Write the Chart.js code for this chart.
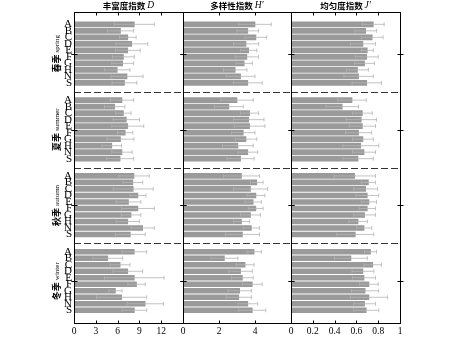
<!DOCTYPE html>
<html>
<head>
<meta charset="utf-8">
<script src="https://cdn.jsdelivr.net/npm/chart.js@4.4.0/dist/chart.umd.min.js"></script>
<style>
html, body { margin: 0; padding: 0; background: #fff; }
#wrap { position: relative; width: 455px; height: 338px; overflow: hidden; }
canvas { position: absolute; top: 0; }
</style>
</head>
<body>
<div id="wrap">
  <canvas id="c1" width="190" height="338" style="left:0px"></canvas>
  <canvas id="c2" width="125" height="338" style="left:175px"></canvas>
  <canvas id="c3" width="135" height="338" style="left:283px"></canvas>
</div>
<script>
const seasons = ['春季', '夏季', '秋季', '冬季'];
const seasonsEn = ['spring', 'summer', 'autumn', 'winter'];
const sites = ['A', 'B', 'C', 'D', 'E', 'F', 'G', 'H', 'N', 'S'];

// one row per season, one value per site
const richness = [
  [8.3, 6.4, 7.4, 7.95, 7.4, 6.8, 6.7, 5.95, 7.3, 6.95],
  [6.6, 5.6, 6.8, 7.2, 7.4, 7.05, 6.4, 5.2, 6.6, 6.35],
  [8.25, 8.1, 8.15, 8.8, 7.5, 8.8, 7.85, 7.4, 9.45, 7.75],
  [8.3, 4.65, 6.35, 7.4, 8.3, 8.6, 5.7, 6.55, 9.8, 8.3]
];
const richnessSd = [
  [2.75, 1.8, 1.15, 2.2, 1.7, 1.5, 1.5, 1.75, 2.2, 1.7],
  [1.6, 1.4, 1.05, 1.8, 2.2, 1.05, 1.85, 1.35, 1.4, 1.85],
  [2.1, 1.35, 2.75, 1.1, 1.7, 2.25, 1.35, 1.6, 1.6, 2.05],
  [1.7, 2.05, 1.35, 2.05, 4.1, 1.2, 0.9, 3.45, 2.5, 1.7]
];
const diversity = [
  [4.0, 3.6, 4.05, 3.5, 3.65, 3.55, 3.4, 2.9, 3.2, 3.6],
  [3.0, 2.55, 3.7, 3.65, 3.7, 3.35, 3.5, 3.05, 3.6, 3.2],
  [3.25, 4.1, 3.75, 4.05, 3.9, 4.05, 3.75, 3.25, 3.8, 3.3],
  [3.95, 2.3, 3.45, 3.2, 3.3, 3.85, 3.15, 3.1, 3.6, 3.85]
];
const diversitySd = [
  [0.9, 0.6, 0.6, 0.7, 0.45, 0.65, 0.45, 0.65, 0.8, 0.8],
  [0.9, 0.8, 0.5, 0.85, 0.85, 0.65, 0.6, 0.85, 0.55, 0.75],
  [1.0, 0.35, 0.95, 0.5, 0.45, 0.4, 0.55, 0.45, 0.45, 0.95],
  [0.4, 0.75, 0.5, 0.65, 0.6, 0.55, 0.65, 0.7, 0.55, 0.75]
];
const evenness = [
  [0.755, 0.685, 0.745, 0.66, 0.70, 0.695, 0.675, 0.61, 0.62, 0.695],
  [0.56, 0.47, 0.655, 0.645, 0.655, 0.62, 0.66, 0.64, 0.67, 0.615],
  [0.585, 0.71, 0.685, 0.70, 0.715, 0.70, 0.675, 0.615, 0.67, 0.59],
  [0.73, 0.55, 0.75, 0.66, 0.67, 0.715, 0.68, 0.715, 0.675, 0.69]
];
const evennessSd = [
  [0.1, 0.1, 0.1, 0.115, 0.055, 0.105, 0.09, 0.1, 0.135, 0.135],
  [0.13, 0.15, 0.09, 0.14, 0.12, 0.12, 0.095, 0.165, 0.105, 0.14],
  [0.19, 0.065, 0.11, 0.105, 0.07, 0.075, 0.1, 0.085, 0.07, 0.17],
  [0.055, 0.15, 0.08, 0.1, 0.105, 0.085, 0.125, 0.17, 0.1, 0.115]
];

// vertical layout of the bar slots (in bar units)
const SEC = 11.66;
const OFF = 1.3;
const TOTAL = SEC * seasons.length;
const positions = [];
seasons.forEach((s, si) => sites.forEach((c, ci) => positions.push(si * SEC + OFF + ci)));

const serif = '"Liberation Serif", "DejaVu Serif", serif';
const cjk = '"Noto Sans CJK SC", sans-serif';

function makePanel(id, values, sds, max, step, title, sym, opts) {
  const vals = values.flat();
  const errs = sds.flat();
  const data = vals.map((v, i) => ({ x: v, y: positions[i] }));

  const decor = {
    id: 'decor',
    afterDatasetsDraw(chart) {
      const ctx = chart.ctx;
      const xs = chart.scales.x;
      const meta = chart.getDatasetMeta(0);
      ctx.save();
      ctx.strokeStyle = '#b4b4b4';
      ctx.lineWidth = 0.8;
      meta.data.forEach((el, i) => {
        const y = el.y;
        const a = xs.getPixelForValue(vals[i] - errs[i]);
        const b = xs.getPixelForValue(vals[i] + errs[i]);
        ctx.beginPath();
        ctx.moveTo(a, y); ctx.lineTo(b, y);
        ctx.moveTo(a, y - 2); ctx.lineTo(a, y + 2);
        ctx.moveTo(b, y - 2); ctx.lineTo(b, y + 2);
        ctx.stroke();
      });
      ctx.restore();
    },
    afterDraw(chart) {
      const ctx = chart.ctx;
      const { left, right, top, bottom } = chart.chartArea;
      const xs = chart.scales.x, ys = chart.scales.y;
      ctx.save();
      // dashed season separators
      ctx.strokeStyle = '#333';
      ctx.lineWidth = 1;
      ctx.setLineDash([7, 3]);
      for (let s = 1; s < seasons.length; s++) {
        const y = Math.round(ys.getPixelForValue(s * SEC)) + 0.5;
        ctx.beginPath(); ctx.moveTo(left, y); ctx.lineTo(right, y); ctx.stroke();
      }
      ctx.setLineDash([]);
      // frame (right edge shares the pixel column with the next panel's left edge)
      ctx.strokeStyle = '#000';
      ctx.lineWidth = 1;
      const L = Math.round(left) + 0.5, R = Math.round(right) + 0.5;
      const T = Math.round(top) + 0.5, B = Math.round(bottom) + 0.5;
      ctx.strokeRect(L, T, R - L, B - T);
      // inward ticks top and bottom
      ctx.beginPath();
      for (let v = step; v < max - 1e-9; v += step) {
        const x = Math.round(xs.getPixelForValue(v)) + 0.5;
        ctx.moveTo(x, T); ctx.lineTo(x, T + 3);
        ctx.moveTo(x, B); ctx.lineTo(x, B - 3);
      }
      // ticks at season midpoints on the side borders
      for (let s = 0; s < seasons.length; s++) {
        const y = Math.round(ys.getPixelForValue(s * SEC + SEC / 2)) + 0.5;
        ctx.moveTo(L - 3, y); ctx.lineTo(L + 3, y);
        ctx.moveTo(R - 3, y); ctx.lineTo(R + 3, y);
      }
      ctx.stroke();
      // panel title
      const cx = (left + right) / 2;
      ctx.fillStyle = '#000';
      ctx.textBaseline = 'middle';
      ctx.font = 'bold 8.5px ' + cjk;
      const w1 = ctx.measureText(title + ' ').width;
      ctx.font = 'italic 9.5px ' + serif;
      const w2 = ctx.measureText(sym).width;
      const x0 = cx - (w1 + w2) / 2;
      ctx.textAlign = 'left';
      ctx.font = 'bold 8.5px ' + cjk;
      ctx.fillText(title + ' ', x0, 5.5);
      ctx.font = 'italic 9.5px ' + serif;
      ctx.fillText(sym, x0 + w1, 5.5);
      // season labels (first panel only)
      if (opts.seasonLabels) {
        seasons.forEach((s, si) => {
          const cy = ys.getPixelForValue(si * SEC + SEC / 2);
          ctx.save();
          ctx.translate(56.5, cy);
          ctx.rotate(-Math.PI / 2);
          ctx.font = 'bold 9px ' + cjk;
          const a = ctx.measureText(s + ' ').width;
          ctx.font = '7px ' + serif;
          const b = ctx.measureText(seasonsEn[si]).width;
          const sx = -(a + b) / 2;
          ctx.font = 'bold 9px ' + cjk;
          ctx.fillText(s + ' ', sx, 0);
          ctx.font = '7px ' + serif;
          ctx.fillText(seasonsEn[si], sx + a, 0.5);
          ctx.restore();
        });
      }
      ctx.restore();
    }
  };

  return new Chart(document.getElementById(id), {
    type: 'bar',
    data: {
      datasets: [{
        data: data,
        backgroundColor: '#9a9a9a',
        barThickness: 5
      }]
    },
    options: {
      indexAxis: 'y',
      responsive: false,
      animation: false,
      devicePixelRatio: 1,
      layout: { padding: { top: 12, left: 0, right: opts.padRight, bottom: 0 } },
      plugins: { legend: { display: false }, tooltip: { enabled: false } },
      scales: {
        x: {
          type: 'linear',
          min: 0,
          max: max,
          grid: { display: false, drawTicks: false },
          border: { display: false },
          ticks: {
            stepSize: step,
            padding: 3,
            color: '#000',
            font: { family: serif, size: 9.5 },
            callback: (v) => (opts.hideLast && Math.abs(v - max) < 1e-9) ? '' : String(Math.round(v * 10) / 10)
          },
          afterFit: (a) => { a.height = 15; }
        },
        y: {
          type: 'linear',
          reverse: true,
          min: 0,
          max: TOTAL,
          grid: { display: false, drawTicks: false },
          border: { display: false },
          afterBuildTicks: (a) => { a.ticks = positions.map(p => ({ value: p })); },
          ticks: {
            display: !!opts.letters,
            autoSkip: false,
            padding: 2,
            color: '#000',
            font: { family: serif, size: 11 },
            callback: (v, i) => sites[i % sites.length]
          },
          afterFit: (a) => { a.width = opts.yWidth; }
        }
      }
    },
    plugins: [decor]
  });
}

makePanel('c1', richness, richnessSd, 15, 3, '丰富度指数', 'D',
  { letters: true, seasonLabels: true, yWidth: 74, padRight: 7, hideLast: true });
makePanel('c2', diversity, diversitySd, 6, 2, '多样性指数', 'H′',
  { yWidth: 8, padRight: 9, hideLast: true });
makePanel('c3', evenness, evennessSd, 1, 0.2, '均匀度指数', 'J′',
  { yWidth: 8, padRight: 18, hideLast: false });
</script>
</body>
</html>
